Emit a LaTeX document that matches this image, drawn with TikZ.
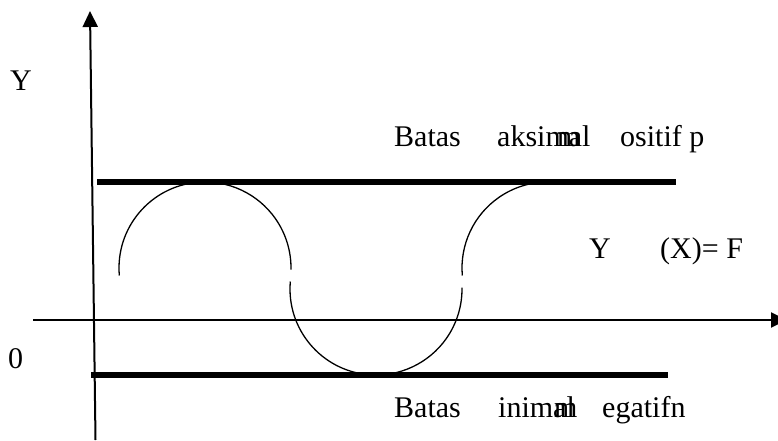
\documentclass[tikz,border=0pt]{standalone}
\usepackage{fontspec}
\setmainfont{Liberation Serif}
\usetikzlibrary{arrows.meta}
\begin{document}
\begin{tikzpicture}[x=1pt,y=1pt,
  lbl/.style={anchor=base west,inner sep=0pt,font=\fontsize{30}{36}\selectfont},
  axis/.style={line width=2pt,-{Triangle[length=16pt,width=15pt]}},
  bound/.style={line width=6pt},
  wave/.style={line width=1.3pt}]
\useasboundingbox (0,0) rectangle (778,440);
% axes
\coordinate (vb) at (95.5,0);
\coordinate (vt) at (90,429);
\coordinate (hl) at (33,120);
\coordinate (hr) at (787,120);
\draw[axis] (vb) -- (vt);
\draw[axis] (hl) -- (hr);
% bounds
\coordinate (t1) at (97,258);
\coordinate (t2) at (676,258);
\coordinate (b1) at (91,65);
\coordinate (b2) at (668,65);
\draw[bound] (t1) -- (t2);
\draw[bound] (b1) -- (b2);
% wave pieces
\coordinate (c1) at (205,172);
\coordinate (c2) at (376,151);
\coordinate (c3) at (548,172);
\draw[wave] (c1) ++(185:86) arc[start angle=185,end angle=-1,radius=86];
\draw[wave] (c2) ++(175:86) arc[start angle=175,end angle=361,radius=86];
\draw[wave] (c3) ++(185:86) arc[start angle=185,end angle=90,radius=86];
% labels
\node[lbl] (ylab) at (10,349) {Y};
\node[lbl] (zero) at (8,72) {0};
\node[lbl] (bt1) at (394,294) {Batas};
\node[lbl] (mx) at (497,294) {aksimal};
\node[lbl] (mxm) at (557,294) {m};
\node[lbl] (pos) at (620,294) {ositif p};
\node[lbl] (fy) at (589,182) {Y};
\node[lbl] (fx) at (660,182) {(X)= F};
\node[lbl] (bt2) at (394,23) {Batas};
\node[lbl] (mn) at (498,23) {inimal};
\node[lbl] (mnm) at (554,23) {m};
\node[lbl] (neg) at (602,23) {egatifn};
\end{tikzpicture}
\end{document}
